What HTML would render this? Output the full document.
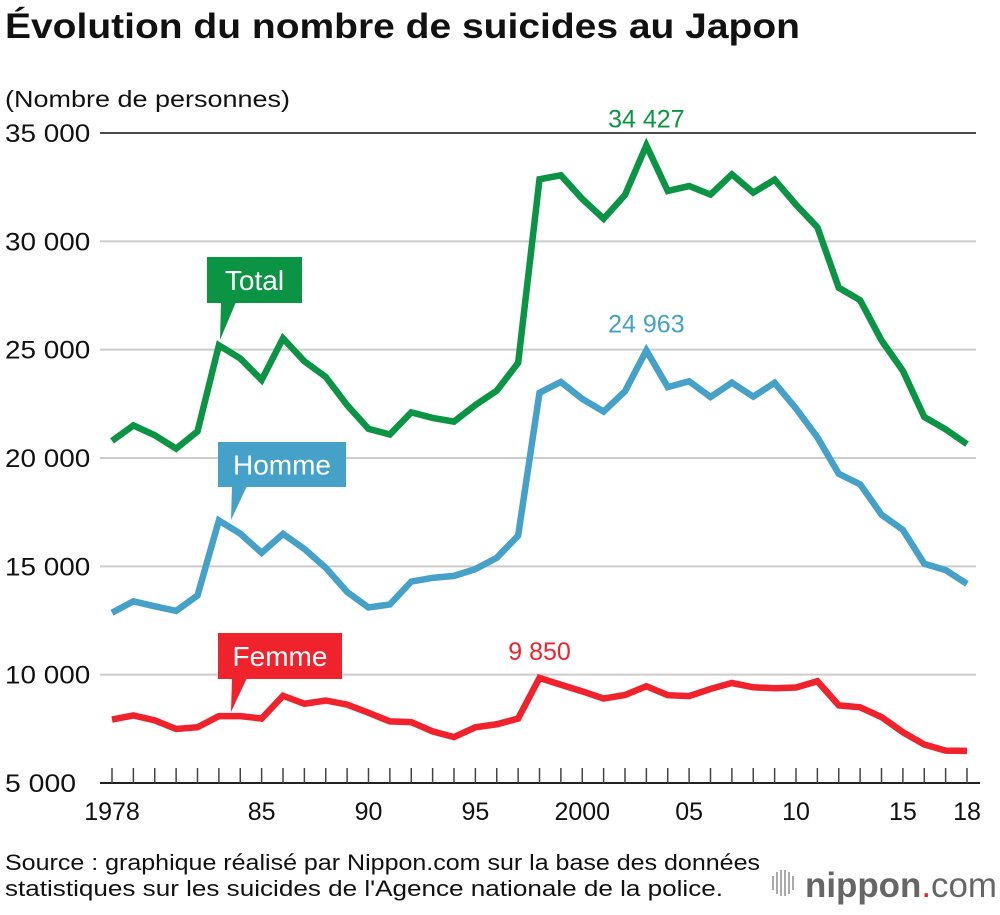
<!DOCTYPE html>
<html><head><meta charset="utf-8"><style>
body{margin:0;background:#fff;}
svg text{font-family:"Liberation Sans",Arial,sans-serif;}
</style></head><body>
<svg width="1000" height="910" viewBox="0 0 1000 910" xmlns="http://www.w3.org/2000/svg">
<text x="5" y="38" font-size="35" font-weight="bold" fill="#111" textLength="795" lengthAdjust="spacingAndGlyphs">Évolution du nombre de suicides au Japon</text>
<text x="5" y="107" font-size="23" fill="#111" textLength="285" lengthAdjust="spacingAndGlyphs">(Nombre de personnes)</text>
<g id="grid"></g>
<g id="axis"></g>
<g id="series"></g>
<g id="labels"></g>
<text x="5" y="870" font-size="22" fill="#111" textLength="755" lengthAdjust="spacingAndGlyphs">Source : graphique réalisé par Nippon.com sur la base des données</text>
<text x="5" y="896" font-size="22" fill="#111" textLength="718" lengthAdjust="spacingAndGlyphs">statistiques sur les suicides de l'Agence nationale de la police.</text>
<g>
<g fill="#aaa"><rect x="772" y="876" width="2" height="14"/><rect x="776" y="872" width="2" height="22"/><rect x="780" y="870" width="2" height="26"/><rect x="784" y="870" width="2" height="26"/><rect x="788" y="872" width="2" height="22"/><rect x="792" y="876" width="2" height="14"/></g>
<text x="805" y="897" font-size="35" fill="#666" textLength="192" lengthAdjust="spacingAndGlyphs"><tspan font-weight="bold">nippon</tspan><tspan fill="#e8202a">.</tspan><tspan>com</tspan></text>
</g>
</svg>
<script>
const years=[];for(let y=1978;y<=2018;y++)years.push(y);
const total=[20788,21503,21048,20434,21228,25202,24596,23599,25524,24460,23742,22436,21346,21084,22104,21851,21679,22445,23104,24391,32863,33048,31957,31042,32143,34427,32325,32552,32155,33093,32249,32845,31690,30651,27858,27283,25427,24025,21897,21321,20640];
const homme=[12859,13386,13155,12942,13654,17116,16508,15624,16497,15802,14934,13818,13102,13242,14296,14468,14560,14874,15393,16416,23013,23512,22727,22144,23080,24963,23272,23540,22813,23478,22831,23472,22283,20955,19273,18787,17386,16681,15121,14826,14190];
const femme=[7929,8117,7893,7492,7574,8086,8088,7975,9027,8658,8808,8618,8244,7842,7808,7383,7119,7571,7711,7975,9850,9536,9230,8898,9063,9464,9053,9012,9342,9615,9418,9373,9407,9696,8585,8496,8041,7344,6776,6495,6480];
const yTicks=[5000,10000,15000,20000,25000,30000,35000];
const yTickLabels=["5 000","10 000","15 000","20 000","25 000","30 000","35 000"];
const xLabelYears=[1978,1985,1990,1995,2000,2005,2010,2015,2018];
const xLabelText=["1978","85","90","95","2000","05","10","15","18"];
const NS="http://www.w3.org/2000/svg";
const X=y=>112+(y-1978)*(967-112)/40;
const Y=v=>783-(v-5000)*(650/30000);
function mk(t,a,p){const e=document.createElementNS(NS,t);for(const k in a)e.setAttribute(k,a[k]);p.appendChild(e);return e;}
const grid=document.getElementById('grid'),axis=document.getElementById('axis'),ser=document.getElementById('series'),lab=document.getElementById('labels');
yTicks.forEach((v,i)=>{
 if(v>5000){const l=mk('line',{x1:100,x2:976,y1:Y(v),y2:Y(v),stroke:v===35000?'#111':'#ccc','stroke-width':v===35000?1.5:2},grid);
 }
 const t=mk('text',{x:5,y:Y(v)+9,'font-size':25,fill:'#111',textLength:yTickLabels[i].length*14.2,lengthAdjust:'spacingAndGlyphs'},grid);t.textContent=yTickLabels[i];
 
});
const ax=mk('line',{x1:100,x2:980,y1:783,y2:783,stroke:'#222','stroke-width':2},axis);

years.forEach(y=>{const t=mk('line',{x1:X(y),x2:X(y),y1:768,y2:783,stroke:'#444','stroke-width':1.5},axis);
 });
xLabelYears.forEach((y,i)=>{const t=mk('text',{x:X(y),y:820,'font-size':25,fill:'#111','text-anchor':'middle'},axis);t.textContent=xLabelText[i];
 });
function line(data,color,name){const p=mk('polyline',{points:data.map((v,i)=>X(years[i])+','+Y(v)).join(' '),fill:'none',stroke:color,'stroke-width':6.5,'stroke-linejoin':'miter'},ser);
 }
line(total,'#0b9444','total-line');line(homme,'#45a1c8','homme-line');line(femme,'#f0232d','femme-line');
function peak(data,color,name){let m=0;data.forEach((v,i)=>{if(v>data[m])m=i;});
 const t=mk('text',{x:X(years[m]),y:Y(data[m])-18,'font-size':25,fill:color,'text-anchor':'middle'},lab);
 t.textContent=data[m].toString().replace(/\B(?=(\d{3})+(?!\d))/g,' ');
 }
peak(total,'#0b9444','total-peak-label');peak(homme,'#45a1c8','homme-peak-label');peak(femme,'#f0232d','femme-peak-label');
function callout(x,y,w,h,tx,ty,txt,color,name){const g=mk('g',{},lab);
 mk('rect',{x:x,y:y,width:w,height:h,fill:color},g);
 mk('polygon',{points:`${x+14},${y+h-1} ${x+29},${y+h-1} ${tx},${ty}`,fill:color},g);
 const t=mk('text',{x:x+w/2,y:y+h/2+10,'font-size':28,fill:'#fff','text-anchor':'middle'},g);t.textContent=txt;}
callout(207,257,95,46,220,340,'Total','#0b9444','total-callout');
callout(218,442,128,45,231,520,'Homme','#45a1c8','homme-callout');
callout(218,633,124,46,231,712,'Femme','#f0232d','femme-callout');
</script>
</body></html>
